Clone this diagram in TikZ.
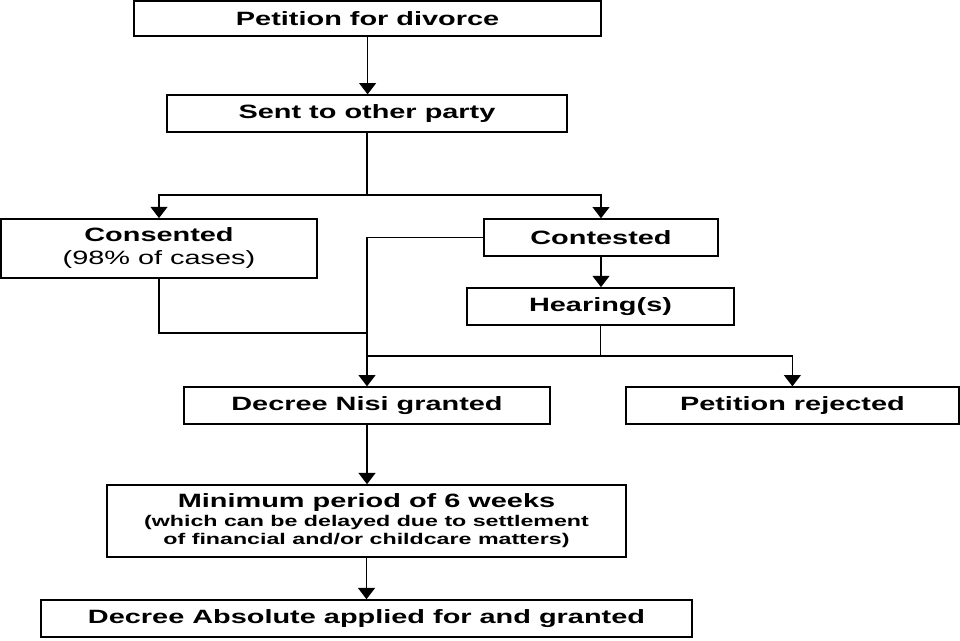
\documentclass[tikz,border=0pt]{standalone}
\usepackage{fontspec}
\setmainfont{Liberation Sans}[FakeStretch=1.5]
\usepackage{tikz}
\usetikzlibrary{arrows.meta,calc}
\newcommand{\tsSmall}{\fontsize{11}{13.6}\selectfont}
\tikzstyle{tsBoldText} = [
    text=black,
    font=\fontsize{13.7}{16.4}\selectfont\bfseries
]
\tikzstyle{tsBox} = [
    rectangle,
    tsBoldText,
    align=center,
    inner sep=0pt,
    draw=black,
    line width=1.1pt]
\tikzstyle{tsLine} = [
    draw=black,
    line width=1pt
]
\tikzstyle{tsArrow} = [
    tsLine,
    -{Triangle[width=12pt,length=8pt]}
]

\begin{document}
\begin{tikzpicture}

        \useasboundingbox (0,0) rectangle (24,16);

        \node[  tsBox,
                minimum width=11.675cm,
                minimum height=0.875cm] (petition) at (9.19,15.54) {Petition for divorce};

        \node[  tsBox,
                minimum width=10cm,
                minimum height=0.925cm] (sent) at (9.175,13.16) {Sent to other party};

        \node[  tsBox,
                minimum width=7.9cm,
                minimum height=1.475cm] (consented) at (3.975,9.79) {Consented\\ \mdseries(98\% of cases)};

        \node[  tsBox,
                minimum width=5.85cm,
                minimum height=0.925cm] (contested) at (15.025,10.06) {Contested};

        \node[  tsBox,
                minimum width=6.675cm,
                minimum height=0.925cm] (hearing) at (15.0125,8.34) {Hearing(s)};

        \node[  tsBox,
                minimum width=9.15cm,
                minimum height=0.925cm] (nisi) at (9.175,5.86) {Decree Nisi granted};

        \node[  tsBox,
                minimum width=8.325cm,
                minimum height=0.925cm] (rejected) at (19.81,5.86) {Petition rejected};

        \node[  tsBox,
                minimum width=12.975cm,
                minimum height=1.8cm] (minimum) at (9.1625,2.975) {Minimum period of 6 weeks\\[-3.5pt]
                \tsSmall (which can be delayed due to settlement\\[-3pt]
                \tsSmall of financial and/or childcare matters)};

        \node[  tsBox,
                minimum width=16.275cm,
                minimum height=0.925cm] (absolute) at (9.1625,0.5375) {Decree Absolute applied for and granted};

        \coordinate (split) at ($(sent.south) - (0,1.55)$);
        \coordinate (join) at (nisi.north |- 0,7.675);
        \coordinate (merge) at (hearing.south |- 0,7.1);

        \draw[tsArrow] (petition.south) -- (petition.south |- sent.north);
        \draw[tsLine] (sent.south) -- (split);
        \draw[tsArrow] (split) -| (consented.north);
        \draw[tsArrow] (split) -| (contested.north);
        \draw[tsArrow] (contested.south) -- (contested.south |- hearing.north);
        \draw[tsLine] (consented.south) |- (join);
        \draw[tsArrow] (contested.west) -| (nisi.north);
        \draw[tsLine] (hearing.south) -- (merge);
        \draw[tsArrow] (nisi.north |- merge) -| (rejected.north);
        \draw[tsArrow] (nisi.south) -- (nisi.south |- minimum.north);
        \draw[tsArrow] (minimum.south) -- (minimum.south |- absolute.north);

    \end{tikzpicture}
\end{document}
